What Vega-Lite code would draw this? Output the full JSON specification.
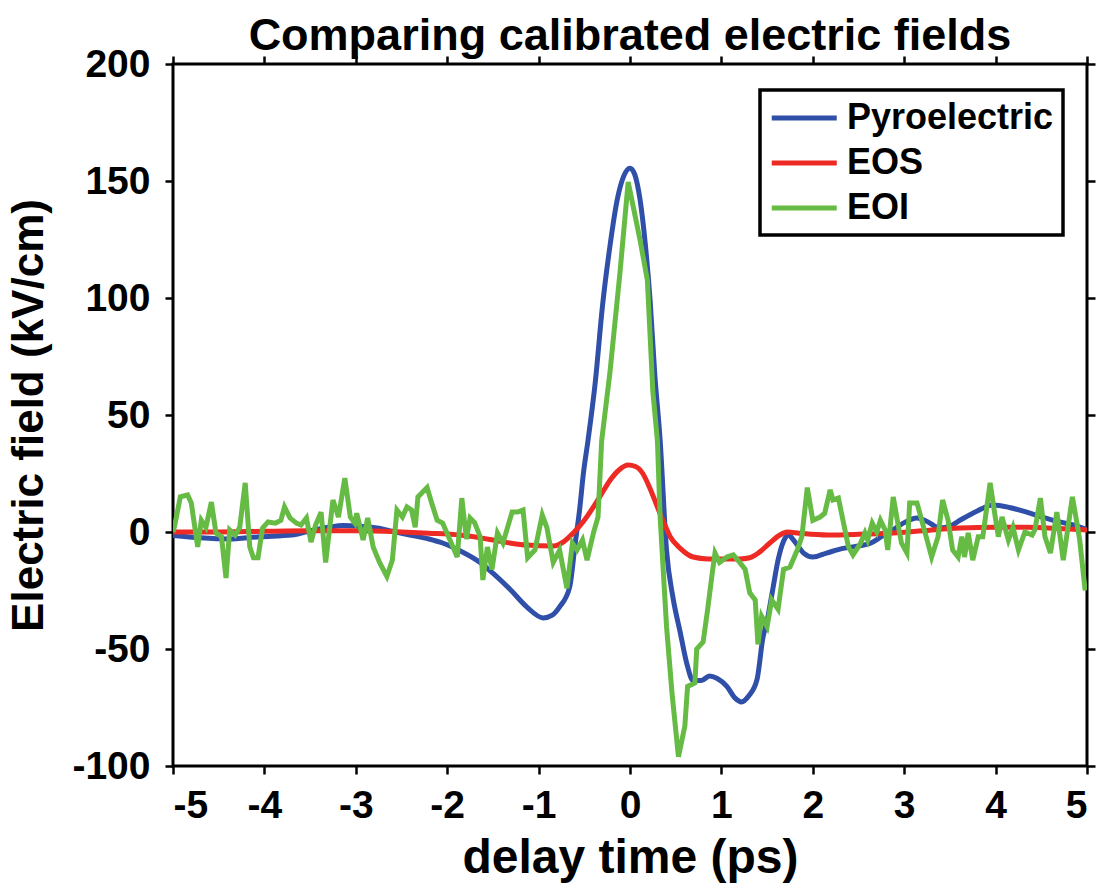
{
  "$schema": "https://vega.github.io/schema/vega-lite/v6.json",
  "width": 914,
  "height": 702,
  "autosize": "none",
  "padding": {"left": 173, "top": 64, "right": 14, "bottom": 129},
  "background": "white",
  "title": {"text": "Comparing calibrated electric fields", "fontSize": 45, "fontWeight": "bold", "font": "Liberation Sans", "color": "black", "anchor": "middle", "offset": -14},
  "config": {
    "view": {"stroke": "black", "strokeWidth": 3},
    "axis": {"domain": false, "grid": false, "tickColor": "black", "tickWidth": 2.5, "tickSize": 8, "labelFont": "Liberation Sans", "labelFontWeight": "bold", "labelFontSize": 39, "labelColor": "black", "titleFont": "Liberation Sans", "titleFontWeight": "bold", "titleFontSize": 44, "titleColor": "black", "labelPadding": 12}
  },
  "datasets": {
    "pyro": [
      {"t": -5, "E": -1.5, "s": "Pyroelectric"}, {"t": -4.7, "E": -2.5, "s": "Pyroelectric"}, {"t": -4.4, "E": -3, "s": "Pyroelectric"}, {"t": -4.05, "E": -2, "s": "Pyroelectric"}, {"t": -3.7, "E": -1.3, "s": "Pyroelectric"}, {"t": -3.5, "E": 0.5, "s": "Pyroelectric"}, {"t": -3.3, "E": 2, "s": "Pyroelectric"}, {"t": -3.14, "E": 2.8, "s": "Pyroelectric"}, {"t": -2.95, "E": 2.5, "s": "Pyroelectric"}, {"t": -2.77, "E": 1.7, "s": "Pyroelectric"}, {"t": -2.6, "E": 0.3, "s": "Pyroelectric"}, {"t": -2.41, "E": -1.3, "s": "Pyroelectric"}, {"t": -2.2, "E": -3, "s": "Pyroelectric"}, {"t": -2.05, "E": -4.7, "s": "Pyroelectric"}, {"t": -1.86, "E": -8, "s": "Pyroelectric"}, {"t": -1.64, "E": -13, "s": "Pyroelectric"}, {"t": -1.5, "E": -17.6, "s": "Pyroelectric"}, {"t": -1.3, "E": -25, "s": "Pyroelectric"}, {"t": -1.13, "E": -32, "s": "Pyroelectric"}, {"t": -0.95, "E": -36.7, "s": "Pyroelectric"}, {"t": -0.85, "E": -35.5, "s": "Pyroelectric"}, {"t": -0.77, "E": -32, "s": "Pyroelectric"}, {"t": -0.66, "E": -23.5, "s": "Pyroelectric"}, {"t": -0.6, "E": -5, "s": "Pyroelectric"}, {"t": -0.55, "E": 10, "s": "Pyroelectric"}, {"t": -0.51, "E": 25, "s": "Pyroelectric"}, {"t": -0.46, "E": 39, "s": "Pyroelectric"}, {"t": -0.38, "E": 64, "s": "Pyroelectric"}, {"t": -0.3, "E": 97, "s": "Pyroelectric"}, {"t": -0.22, "E": 122, "s": "Pyroelectric"}, {"t": -0.14, "E": 142, "s": "Pyroelectric"}, {"t": -0.07, "E": 152, "s": "Pyroelectric"}, {"t": 0, "E": 155.5, "s": "Pyroelectric"}, {"t": 0.05, "E": 153, "s": "Pyroelectric"}, {"t": 0.11, "E": 142, "s": "Pyroelectric"}, {"t": 0.17, "E": 122, "s": "Pyroelectric"}, {"t": 0.22, "E": 99, "s": "Pyroelectric"}, {"t": 0.27, "E": 68, "s": "Pyroelectric"}, {"t": 0.33, "E": 39, "s": "Pyroelectric"}, {"t": 0.4, "E": -8, "s": "Pyroelectric"}, {"t": 0.47, "E": -28, "s": "Pyroelectric"}, {"t": 0.55, "E": -43, "s": "Pyroelectric"}, {"t": 0.62, "E": -56, "s": "Pyroelectric"}, {"t": 0.69, "E": -63.5, "s": "Pyroelectric"}, {"t": 0.78, "E": -63.5, "s": "Pyroelectric"}, {"t": 0.87, "E": -61.5, "s": "Pyroelectric"}, {"t": 0.95, "E": -62.5, "s": "Pyroelectric"}, {"t": 1.06, "E": -66, "s": "Pyroelectric"}, {"t": 1.15, "E": -71, "s": "Pyroelectric"}, {"t": 1.22, "E": -72.6, "s": "Pyroelectric"}, {"t": 1.3, "E": -70, "s": "Pyroelectric"}, {"t": 1.39, "E": -63, "s": "Pyroelectric"}, {"t": 1.455, "E": -45, "s": "Pyroelectric"}, {"t": 1.5, "E": -38, "s": "Pyroelectric"}, {"t": 1.56, "E": -25, "s": "Pyroelectric"}, {"t": 1.62, "E": -12, "s": "Pyroelectric"}, {"t": 1.68, "E": -4, "s": "Pyroelectric"}, {"t": 1.73, "E": -1.3, "s": "Pyroelectric"}, {"t": 1.8, "E": -4, "s": "Pyroelectric"}, {"t": 1.9, "E": -9, "s": "Pyroelectric"}, {"t": 2.0, "E": -10.7, "s": "Pyroelectric"}, {"t": 2.15, "E": -9, "s": "Pyroelectric"}, {"t": 2.33, "E": -7, "s": "Pyroelectric"}, {"t": 2.5, "E": -6, "s": "Pyroelectric"}, {"t": 2.63, "E": -4.8, "s": "Pyroelectric"}, {"t": 2.75, "E": -2, "s": "Pyroelectric"}, {"t": 2.88, "E": 1, "s": "Pyroelectric"}, {"t": 3.0, "E": 4, "s": "Pyroelectric"}, {"t": 3.14, "E": 6, "s": "Pyroelectric"}, {"t": 3.25, "E": 4.5, "s": "Pyroelectric"}, {"t": 3.39, "E": 1.7, "s": "Pyroelectric"}, {"t": 3.5, "E": 2.5, "s": "Pyroelectric"}, {"t": 3.61, "E": 5, "s": "Pyroelectric"}, {"t": 3.8, "E": 9, "s": "Pyroelectric"}, {"t": 3.97, "E": 11.5, "s": "Pyroelectric"}, {"t": 4.15, "E": 10.5, "s": "Pyroelectric"}, {"t": 4.34, "E": 8.5, "s": "Pyroelectric"}, {"t": 4.5, "E": 6.5, "s": "Pyroelectric"}, {"t": 4.7, "E": 4.3, "s": "Pyroelectric"}, {"t": 4.85, "E": 3, "s": "Pyroelectric"}, {"t": 5.0, "E": 1, "s": "Pyroelectric"}
    ],
    "eos": [
      {"t": -5, "E": 0, "s": "EOS"}, {"t": -4.5, "E": 0, "s": "EOS"}, {"t": -4, "E": 0.3, "s": "EOS"}, {"t": -3.5, "E": 0.5, "s": "EOS"}, {"t": -3, "E": 0.5, "s": "EOS"}, {"t": -2.5, "E": 0, "s": "EOS"}, {"t": -2.2, "E": -0.5, "s": "EOS"}, {"t": -1.86, "E": -1.3, "s": "EOS"}, {"t": -1.5, "E": -3.4, "s": "EOS"}, {"t": -1.3, "E": -4.8, "s": "EOS"}, {"t": -1.13, "E": -5.6, "s": "EOS"}, {"t": -0.84, "E": -6, "s": "EOS"}, {"t": -0.72, "E": -4, "s": "EOS"}, {"t": -0.62, "E": -0.4, "s": "EOS"}, {"t": -0.5, "E": 5, "s": "EOS"}, {"t": -0.4, "E": 10.7, "s": "EOS"}, {"t": -0.3, "E": 17, "s": "EOS"}, {"t": -0.22, "E": 22, "s": "EOS"}, {"t": -0.12, "E": 26.5, "s": "EOS"}, {"t": -0.02, "E": 28.6, "s": "EOS"}, {"t": 0.06, "E": 28, "s": "EOS"}, {"t": 0.14, "E": 25, "s": "EOS"}, {"t": 0.22, "E": 18.5, "s": "EOS"}, {"t": 0.3, "E": 10.7, "s": "EOS"}, {"t": 0.37, "E": 4, "s": "EOS"}, {"t": 0.44, "E": -2, "s": "EOS"}, {"t": 0.55, "E": -7, "s": "EOS"}, {"t": 0.69, "E": -10.7, "s": "EOS"}, {"t": 0.85, "E": -11.5, "s": "EOS"}, {"t": 1.06, "E": -11.5, "s": "EOS"}, {"t": 1.2, "E": -11.5, "s": "EOS"}, {"t": 1.31, "E": -11, "s": "EOS"}, {"t": 1.42, "E": -8.5, "s": "EOS"}, {"t": 1.53, "E": -4.7, "s": "EOS"}, {"t": 1.64, "E": -1.3, "s": "EOS"}, {"t": 1.72, "E": 0, "s": "EOS"}, {"t": 1.85, "E": -0.5, "s": "EOS"}, {"t": 2.16, "E": -1.3, "s": "EOS"}, {"t": 2.5, "E": -1, "s": "EOS"}, {"t": 2.88, "E": -0.4, "s": "EOS"}, {"t": 3.2, "E": 0.5, "s": "EOS"}, {"t": 3.61, "E": 1.7, "s": "EOS"}, {"t": 4.0, "E": 2, "s": "EOS"}, {"t": 4.34, "E": 2, "s": "EOS"}, {"t": 4.7, "E": 1.5, "s": "EOS"}, {"t": 5.0, "E": 0.9, "s": "EOS"}
    ],
    "eoi": [
      {"t": -5.0, "E": 0, "s": "EOI"}, {"t": -4.98, "E": 3, "s": "EOI"}, {"t": -4.92, "E": 15, "s": "EOI"}, {"t": -4.84, "E": 15.8, "s": "EOI"}, {"t": -4.8, "E": 12.4, "s": "EOI"}, {"t": -4.73, "E": -6.4, "s": "EOI"}, {"t": -4.69, "E": 5, "s": "EOI"}, {"t": -4.64, "E": 2, "s": "EOI"}, {"t": -4.58, "E": 12.8, "s": "EOI"}, {"t": -4.53, "E": -0.4, "s": "EOI"}, {"t": -4.47, "E": -2, "s": "EOI"}, {"t": -4.42, "E": -19.7, "s": "EOI"}, {"t": -4.38, "E": 0.9, "s": "EOI"}, {"t": -4.32, "E": -1.3, "s": "EOI"}, {"t": -4.27, "E": 2, "s": "EOI"}, {"t": -4.21, "E": 21, "s": "EOI"}, {"t": -4.16, "E": -6.4, "s": "EOI"}, {"t": -4.12, "E": -11, "s": "EOI"}, {"t": -4.07, "E": -11, "s": "EOI"}, {"t": -4.02, "E": 1.7, "s": "EOI"}, {"t": -3.96, "E": 4.3, "s": "EOI"}, {"t": -3.88, "E": 3.8, "s": "EOI"}, {"t": -3.82, "E": 5, "s": "EOI"}, {"t": -3.78, "E": 10.7, "s": "EOI"}, {"t": -3.72, "E": 6, "s": "EOI"}, {"t": -3.65, "E": 3.8, "s": "EOI"}, {"t": -3.6, "E": 3, "s": "EOI"}, {"t": -3.54, "E": 6, "s": "EOI"}, {"t": -3.49, "E": -4.3, "s": "EOI"}, {"t": -3.44, "E": 3, "s": "EOI"}, {"t": -3.38, "E": 8.5, "s": "EOI"}, {"t": -3.33, "E": -13, "s": "EOI"}, {"t": -3.25, "E": 13.7, "s": "EOI"}, {"t": -3.19, "E": 6.4, "s": "EOI"}, {"t": -3.12, "E": 23, "s": "EOI"}, {"t": -3.06, "E": 6.4, "s": "EOI"}, {"t": -3.01, "E": 3.8, "s": "EOI"}, {"t": -2.99, "E": 8, "s": "EOI"}, {"t": -2.92, "E": -3.4, "s": "EOI"}, {"t": -2.87, "E": 6, "s": "EOI"}, {"t": -2.81, "E": -6.4, "s": "EOI"}, {"t": -2.74, "E": -13, "s": "EOI"}, {"t": -2.66, "E": -19, "s": "EOI"}, {"t": -2.6, "E": -12, "s": "EOI"}, {"t": -2.55, "E": 9.4, "s": "EOI"}, {"t": -2.49, "E": 6.4, "s": "EOI"}, {"t": -2.44, "E": 10.7, "s": "EOI"}, {"t": -2.39, "E": 9.4, "s": "EOI"}, {"t": -2.35, "E": 2, "s": "EOI"}, {"t": -2.32, "E": 15, "s": "EOI"}, {"t": -2.22, "E": 19, "s": "EOI"}, {"t": -2.17, "E": 12.4, "s": "EOI"}, {"t": -2.11, "E": 5, "s": "EOI"}, {"t": -2.05, "E": 3.8, "s": "EOI"}, {"t": -1.97, "E": -3.4, "s": "EOI"}, {"t": -1.89, "E": -10.7, "s": "EOI"}, {"t": -1.84, "E": 14.5, "s": "EOI"}, {"t": -1.79, "E": -3, "s": "EOI"}, {"t": -1.75, "E": 6, "s": "EOI"}, {"t": -1.7, "E": 4, "s": "EOI"}, {"t": -1.64, "E": -2, "s": "EOI"}, {"t": -1.61, "E": -20.5, "s": "EOI"}, {"t": -1.56, "E": -6.4, "s": "EOI"}, {"t": -1.51, "E": -16, "s": "EOI"}, {"t": -1.45, "E": -0.4, "s": "EOI"}, {"t": -1.39, "E": -4.7, "s": "EOI"}, {"t": -1.29, "E": 8.5, "s": "EOI"}, {"t": -1.23, "E": 8.5, "s": "EOI"}, {"t": -1.17, "E": 9.4, "s": "EOI"}, {"t": -1.12, "E": -11, "s": "EOI"}, {"t": -1.04, "E": -7.7, "s": "EOI"}, {"t": -0.96, "E": 7.3, "s": "EOI"}, {"t": -0.91, "E": 2, "s": "EOI"}, {"t": -0.84, "E": -13, "s": "EOI"}, {"t": -0.77, "E": -7.7, "s": "EOI"}, {"t": -0.69, "E": -24, "s": "EOI"}, {"t": -0.63, "E": -4.7, "s": "EOI"}, {"t": -0.58, "E": -7.7, "s": "EOI"}, {"t": -0.52, "E": -3.4, "s": "EOI"}, {"t": -0.47, "E": -12, "s": "EOI"}, {"t": -0.4, "E": -0.4, "s": "EOI"}, {"t": -0.35, "E": 6.4, "s": "EOI"}, {"t": -0.31, "E": 39, "s": "EOI"}, {"t": -0.22, "E": 68, "s": "EOI"}, {"t": -0.11, "E": 110.7, "s": "EOI"}, {"t": -0.02, "E": 149.6, "s": "EOI"}, {"t": 0.11, "E": 124.8, "s": "EOI"}, {"t": 0.19, "E": 107.7, "s": "EOI"}, {"t": 0.25, "E": 60, "s": "EOI"}, {"t": 0.3, "E": 39, "s": "EOI"}, {"t": 0.33, "E": 6, "s": "EOI"}, {"t": 0.4, "E": -40.5, "s": "EOI"}, {"t": 0.46, "E": -69, "s": "EOI"}, {"t": 0.53, "E": -96, "s": "EOI"}, {"t": 0.6, "E": -83, "s": "EOI"}, {"t": 0.63, "E": -66, "s": "EOI"}, {"t": 0.71, "E": -64.5, "s": "EOI"}, {"t": 0.73, "E": -50, "s": "EOI"}, {"t": 0.8, "E": -47, "s": "EOI"}, {"t": 0.85, "E": -33, "s": "EOI"}, {"t": 0.9, "E": -17.5, "s": "EOI"}, {"t": 0.93, "E": -9, "s": "EOI"}, {"t": 0.98, "E": -13, "s": "EOI"}, {"t": 1.06, "E": -10.7, "s": "EOI"}, {"t": 1.13, "E": -9.8, "s": "EOI"}, {"t": 1.2, "E": -13, "s": "EOI"}, {"t": 1.26, "E": -16, "s": "EOI"}, {"t": 1.31, "E": -26, "s": "EOI"}, {"t": 1.37, "E": -29, "s": "EOI"}, {"t": 1.4, "E": -48, "s": "EOI"}, {"t": 1.44, "E": -36, "s": "EOI"}, {"t": 1.5, "E": -40.5, "s": "EOI"}, {"t": 1.55, "E": -29, "s": "EOI"}, {"t": 1.62, "E": -33, "s": "EOI"}, {"t": 1.68, "E": -16, "s": "EOI"}, {"t": 1.75, "E": -15, "s": "EOI"}, {"t": 1.83, "E": -7.7, "s": "EOI"}, {"t": 1.88, "E": -2, "s": "EOI"}, {"t": 1.94, "E": 19, "s": "EOI"}, {"t": 2.0, "E": 5, "s": "EOI"}, {"t": 2.08, "E": 6.4, "s": "EOI"}, {"t": 2.13, "E": 8, "s": "EOI"}, {"t": 2.19, "E": 18, "s": "EOI"}, {"t": 2.22, "E": 13.7, "s": "EOI"}, {"t": 2.28, "E": 14.5, "s": "EOI"}, {"t": 2.33, "E": 5, "s": "EOI"}, {"t": 2.39, "E": -6.4, "s": "EOI"}, {"t": 2.44, "E": -9.8, "s": "EOI"}, {"t": 2.52, "E": -5, "s": "EOI"}, {"t": 2.57, "E": -0.4, "s": "EOI"}, {"t": 2.6, "E": -3.4, "s": "EOI"}, {"t": 2.65, "E": 3.8, "s": "EOI"}, {"t": 2.7, "E": 0, "s": "EOI"}, {"t": 2.74, "E": 5, "s": "EOI"}, {"t": 2.79, "E": 1, "s": "EOI"}, {"t": 2.82, "E": -7.7, "s": "EOI"}, {"t": 2.88, "E": 15, "s": "EOI"}, {"t": 2.93, "E": 3.8, "s": "EOI"}, {"t": 2.97, "E": -4.7, "s": "EOI"}, {"t": 3.03, "E": -9, "s": "EOI"}, {"t": 3.06, "E": 12.4, "s": "EOI"}, {"t": 3.14, "E": 12.4, "s": "EOI"}, {"t": 3.25, "E": -3.4, "s": "EOI"}, {"t": 3.3, "E": -10.7, "s": "EOI"}, {"t": 3.37, "E": -2, "s": "EOI"}, {"t": 3.42, "E": 13.7, "s": "EOI"}, {"t": 3.48, "E": 5, "s": "EOI"}, {"t": 3.53, "E": -7.7, "s": "EOI"}, {"t": 3.59, "E": -10.7, "s": "EOI"}, {"t": 3.63, "E": -2, "s": "EOI"}, {"t": 3.66, "E": -10.7, "s": "EOI"}, {"t": 3.7, "E": -0.4, "s": "EOI"}, {"t": 3.75, "E": -12, "s": "EOI"}, {"t": 3.81, "E": -2, "s": "EOI"}, {"t": 3.86, "E": -2, "s": "EOI"}, {"t": 3.94, "E": 21, "s": "EOI"}, {"t": 3.99, "E": 8, "s": "EOI"}, {"t": 4.03, "E": -2, "s": "EOI"}, {"t": 4.07, "E": 6.4, "s": "EOI"}, {"t": 4.14, "E": -3.4, "s": "EOI"}, {"t": 4.19, "E": 2, "s": "EOI"}, {"t": 4.25, "E": -7.7, "s": "EOI"}, {"t": 4.32, "E": 0, "s": "EOI"}, {"t": 4.4, "E": -1.3, "s": "EOI"}, {"t": 4.43, "E": 1, "s": "EOI"}, {"t": 4.49, "E": 14.5, "s": "EOI"}, {"t": 4.54, "E": -2, "s": "EOI"}, {"t": 4.6, "E": -9, "s": "EOI"}, {"t": 4.67, "E": 8.5, "s": "EOI"}, {"t": 4.74, "E": -12, "s": "EOI"}, {"t": 4.84, "E": 15, "s": "EOI"}, {"t": 4.89, "E": 3.8, "s": "EOI"}, {"t": 4.92, "E": -3.4, "s": "EOI"}, {"t": 4.98, "E": -25, "s": "EOI"}
    ]
  },
  "resolve": {"axis": {"x": "independent", "y": "independent"}},
  "layer": [
    {
      "data": {"name": "pyro"},
      "mark": {"type": "line", "strokeWidth": 5, "clip": true, "interpolate": "monotone"},
      "encoding": {
        "x": {"field": "t", "type": "quantitative", "scale": {"domain": [-5, 5], "nice": false}, "axis": {"orient": "bottom", "values": [-5,-4,-3,-2,-1,0,1,2,3,4,5], "labelExpr": "'' + datum.value", "title": "delay time (ps)", "titleFontSize": 48, "titlePadding": 9}},
        "y": {"field": "E", "type": "quantitative", "scale": {"domain": [-100, 200], "nice": false, "zero": false}, "axis": {"orient": "left", "values": [-100,-50,0,50,100,150,200], "labelExpr": "'' + datum.value", "labelPadding": 15, "title": "Electric field (kV/cm)", "titlePadding": 20}},
        "color": {"field": "s", "type": "nominal", "scale": {"domain": ["Pyroelectric", "EOS", "EOI"], "range": ["#2f4fa8", "#ee2a24", "#66bb44"]},
          "legend": {"title": null, "orient": "none", "legendX": 587, "legendY": 26, "symbolType": "M-1,0L3,0", "symbolSize": 1056, "symbolStrokeWidth": 5, "symbolFillColor": "transparent", "labelFont": "Liberation Sans", "labelFontWeight": "bold", "labelFontSize": 36, "labelColor": "black", "labelOffset": 40, "labelLimit": 400, "rowPadding": 8, "padding": 9, "strokeColor": "black", "fillColor": "white",
            "encode": {"legend": {"update": {"strokeWidth": {"value": 3.5}}}}}}
      }
    },
    {
      "data": {"name": "eos"},
      "mark": {"type": "line", "strokeWidth": 5, "clip": true, "interpolate": "monotone"},
      "encoding": {
        "x": {"field": "t", "type": "quantitative", "axis": {"orient": "top", "values": [-5,-4,-3,-2,-1,0,1,2,3,4,5], "labels": false, "title": null}},
        "y": {"field": "E", "type": "quantitative", "axis": {"orient": "right", "values": [-100,-50,0,50,100,150,200], "labels": false, "title": null}},
        "color": {"field": "s", "type": "nominal"}
      }
    },
    {
      "data": {"name": "eoi"},
      "mark": {"type": "line", "strokeWidth": 5, "clip": true},
      "encoding": {
        "x": {"field": "t", "type": "quantitative", "axis": null},
        "y": {"field": "E", "type": "quantitative", "axis": null},
        "color": {"field": "s", "type": "nominal"}
      }
    }
  ]
}
